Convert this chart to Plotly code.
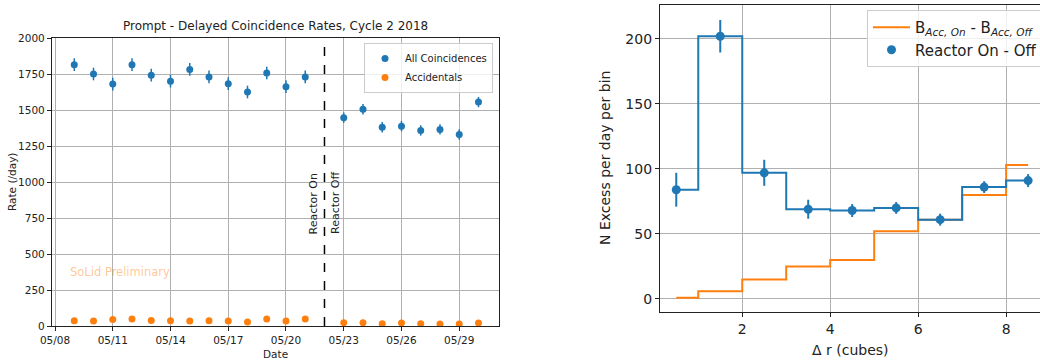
import plotly.graph_objects as go

# ---------------- Left chart data ----------------
on_dates = ["2018-05-09", "2018-05-10", "2018-05-11", "2018-05-12", "2018-05-13",
            "2018-05-14", "2018-05-15", "2018-05-16", "2018-05-17", "2018-05-18",
            "2018-05-19", "2018-05-20", "2018-05-21"]
off_dates = ["2018-05-23", "2018-05-24", "2018-05-25", "2018-05-26",
             "2018-05-27", "2018-05-28", "2018-05-29", "2018-05-30"]
dates = on_dates + off_dates
all_coinc = [1815, 1750, 1680, 1815, 1742, 1700, 1782, 1730, 1683, 1625, 1757, 1662, 1730,
             1447, 1505, 1380, 1388, 1358, 1365, 1330, 1555]
all_coinc_err = [44] * 13 + [36] * 8
accidentals = [37, 34, 46, 48, 39, 37, 34, 37, 34, 27, 48, 34, 48,
               23, 23, 16, 21, 16, 14, 14, 21]
accidentals_err = [3] * 21
left_yticks = [0, 250, 500, 750, 1000, 1250, 1500, 1750, 2000]
switch_date = "2018-05-22"

# ---------------- Right chart data ----------------
dr_cubes = [0.5, 1.5, 2.5, 3.5, 4.5, 5.5, 6.5, 7.5, 8.5]
excess_on_off = [84, 202, 97, 69, 68, 70, 61, 86, 91]
excess_err = [13, 12.5, 10, 7.3, 5, 4.5, 4.6, 4.5, 5]
acc_diff = [1, 6, 15, 25, 30, 52, 61, 80, 103]
right_yticks = [0, 50, 100, 150, 200]
right_xticks = [2, 4, 6, 8]

BLUE = "#1f77b4"
ORANGE = "#ff7f0e"
GRID = "#b0b0b0"
FONT = "DejaVu Sans"
W, H = 1040, 361

fig = go.Figure()

# left traces
fig.add_trace(go.Scatter(
    x=dates, y=all_coinc, mode="markers", name="All Coincidences",
    marker=dict(color=BLUE, size=7),
    error_y=dict(type="data", array=all_coinc_err, color=BLUE, thickness=1.5, width=0),
    xaxis="x", yaxis="y", legend="legend"))
fig.add_trace(go.Scatter(
    x=dates, y=accidentals, mode="markers", name="Accidentals",
    marker=dict(color=ORANGE, size=7),
    error_y=dict(type="data", array=accidentals_err, color=ORANGE, thickness=1.5, width=0),
    xaxis="x", yaxis="y", legend="legend"))

# right traces
fig.add_trace(go.Scatter(
    x=dr_cubes, y=acc_diff, mode="lines", line_shape="hvh",
    name="B<sub><i>Acc, On</i></sub> - B<sub><i>Acc, Off</i></sub>",
    line=dict(color=ORANGE, width=2),
    xaxis="x2", yaxis="y2", legend="legend2"))
fig.add_trace(go.Scatter(
    x=dr_cubes, y=excess_on_off, mode="lines", line_shape="hvh",
    showlegend=False, line=dict(color=BLUE, width=2),
    xaxis="x2", yaxis="y2", legend="legend2"))
fig.add_trace(go.Scatter(
    x=dr_cubes, y=excess_on_off, mode="markers", name="Reactor On - Off",
    marker=dict(color=BLUE, size=9),
    error_y=dict(type="data", array=excess_err, color=BLUE, thickness=2, width=0),
    xaxis="x2", yaxis="y2", legend="legend2"))

def px_x(p):
    return p / W

def px_y(p):
    return 1 - p / H

axis_common = dict(showgrid=True, gridcolor=GRID, gridwidth=1, zeroline=False,
                   showline=True, linecolor="#222", linewidth=1.2,
                   ticks="outside", ticklen=4, tickcolor="#222", automargin=False)

fig.update_layout(
    width=W, height=H,
    margin=dict(l=0, r=0, t=0, b=0, autoexpand=False),
    paper_bgcolor="white", plot_bgcolor="white",
    font=dict(family=FONT, color="#222", size=10),
    xaxis=dict(axis_common, domain=[px_x(52), px_x(499)], anchor="y", mirror=True,
               type="date", range=["2018-05-07 20:15", "2018-05-31 01:35"],
               tick0="2018-05-08", dtick=3 * 86400000, tickformat="%m/%d",
               tickfont=dict(size=10.5)),
    yaxis=dict(axis_common, domain=[px_y(326), px_y(38)], anchor="x", mirror=True,
               range=[0, 2000], tickvals=left_yticks, tickfont=dict(size=10.5)),
    xaxis2=dict(axis_common, domain=[px_x(660), 1.0], anchor="y2", mirror=True,
                range=[0.13, 8.77], tickvals=right_xticks, tickfont=dict(size=14)),
    yaxis2=dict(axis_common, domain=[px_y(312), px_y(5)], anchor="x2", mirror=False,
                range=[-10, 226], tickvals=right_yticks, tickfont=dict(size=14)),
    legend=dict(x=px_x(493), y=px_y(43), xanchor="right", yanchor="top",
                bgcolor="rgba(255,255,255,0.8)", bordercolor="#cccccc", borderwidth=1,
                font=dict(size=10), tracegroupgap=0),
    legend2=dict(x=px_x(867), y=px_y(10), xanchor="left", yanchor="top",
                 bgcolor="rgba(255,255,255,0.8)", bordercolor="#cccccc", borderwidth=1,
                 font=dict(size=15), tracegroupgap=0, itemwidth=37),
    showlegend=True,
)

# dashed reactor switch line
fig.add_shape(type="line", xref="x", yref="y domain", x0=switch_date, x1=switch_date,
              y0=0, y1=1, line=dict(color="black", width=1.5, dash="dash"))

def pa(text, x, y, size, angle=0, xa="center", ya="middle", color="#222"):
    return dict(text=text, x=px_x(x), y=px_y(y), xref="paper", yref="paper",
                xanchor=xa, yanchor=ya, showarrow=False, textangle=angle,
                font=dict(size=size, color=color))

ann = [
    pa("Prompt - Delayed Coincidence Rates, Cycle 2 2018", 275.5, 26, 12),
    pa("Rate (/day)", 12, 182, 10.5, angle=-90),
    pa("Date", 275.5, 354, 10.5),
    dict(text="Reactor On", x=switch_date, y=625, xref="x", yref="y", xanchor="right",
         yanchor="bottom", xshift=-2, showarrow=False, textangle=-90, font=dict(size=11)),
    dict(text="Reactor Off", x=switch_date, y=625, xref="x", yref="y", xanchor="left",
         yanchor="bottom", xshift=2, showarrow=False, textangle=-90, font=dict(size=11)),
    pa("SoLid Preliminary", 68, 272, 11.5, xa="left", color="rgba(255,127,14,0.45)"),
    pa("N Excess per day per bin", 605, 158, 14, angle=-90),
    pa("Δ r (cubes)", 850, 350, 14),
]
fig.update_layout(annotations=ann)

fig.write_html("out.html", config={"displayModeBar": False},
               post_script="document.body.style.margin='0';")
